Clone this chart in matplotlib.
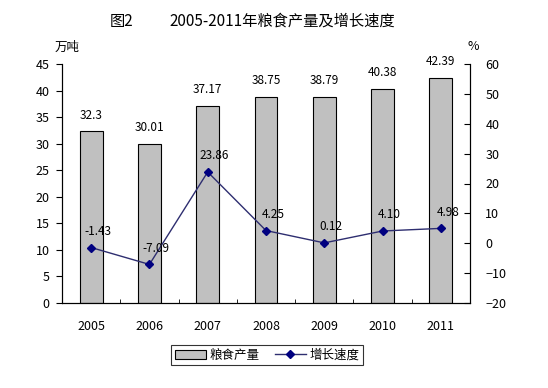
import matplotlib.pyplot as plt
import numpy as np

plt.rcParams['font.family'] = ['Noto Sans CJK SC', 'DejaVu Sans']

years = ["2005", "2006", "2007", "2008", "2009", "2010", "2011"]
output = [32.3, 30.01, 37.17, 38.75, 38.79, 40.38, 42.39]  # 万吨
growth = [-1.43, -7.09, 23.86, 4.25, 0.12, 4.10, 4.98]  # %
growth_labels = ["-1.43", "-7.09", "23.86", "4.25", "0.12", "4.10", "4.98"]

fig = plt.figure(figsize=(5.48, 3.88), dpi=100)
ax = fig.add_axes([62 / 548, 1 - 303 / 388, 408 / 548, 239 / 388])
x = np.arange(len(years))

bars = ax.bar(x, output, width=0.39, color="#C0C0C0", edgecolor="black", linewidth=0.8, label="粮食产量")
for xi, v in zip(x, output):
    ax.annotate(str(v), (xi, v), xytext=(0, 7), textcoords="offset points",
                ha="center", va="bottom", fontsize=8.5)

ax.set_xlim(-0.5, len(years) - 0.5)
ax.set_ylim(0, 45)
ax.set_yticks(range(0, 46, 5))
ax.set_xticks(x)
ax.set_xticklabels(years, fontsize=9)
ax.set_xticks(np.arange(-0.5, len(years), 1), minor=True)
ax.tick_params(axis="x", which="major", length=0, pad=12)
ax.tick_params(axis="x", which="minor", direction="in", length=3)
ax.tick_params(axis="y", direction="out", length=4, labelsize=9, pad=5)
ax.spines["top"].set_visible(False)

ax2 = ax.twinx()
line, = ax2.plot(x, growth, color="#2E2E70", linewidth=1, marker="D", markersize=4,
                 markerfacecolor="#000080", markeredgecolor="#000080", label="增长速度")
for xi, v, t in zip(x, growth, growth_labels):
    ax2.annotate(t, (xi, v), xytext=(5, 7), textcoords="offset points",
                 ha="center", va="bottom", fontsize=8.5)
ax2.set_ylim(-20, 60)
ax2.set_yticks(range(-20, 61, 10))
ax2.tick_params(axis="y", direction="in", length=4, labelsize=9, pad=11)
ax2.spines["top"].set_visible(False)

fig.text(0.2, 0.945, "图2", fontsize=11, ha="left", va="center")
fig.text(0.31, 0.945, "2005-2011年粮食产量及增长速度", fontsize=11, ha="left", va="center")
fig.text(55 / 548, 1 - 47 / 388, "万吨", fontsize=9, ha="left", va="center")
fig.text(467 / 548, 1 - 46 / 388, "%", fontsize=9, ha="left", va="center")

leg = fig.legend([bars, line], ["粮食产量", "增长速度"], loc="center",
                 bbox_to_anchor=(267 / 548, 1 - 355 / 388), ncol=2, frameon=True,
                 fancybox=False, edgecolor="black", fontsize=9, handlelength=2.5,
                 columnspacing=1.2, borderpad=0.3, handletextpad=0.3)
leg.get_frame().set_linewidth(0.8)

fig.savefig("out.png", dpi=100)
